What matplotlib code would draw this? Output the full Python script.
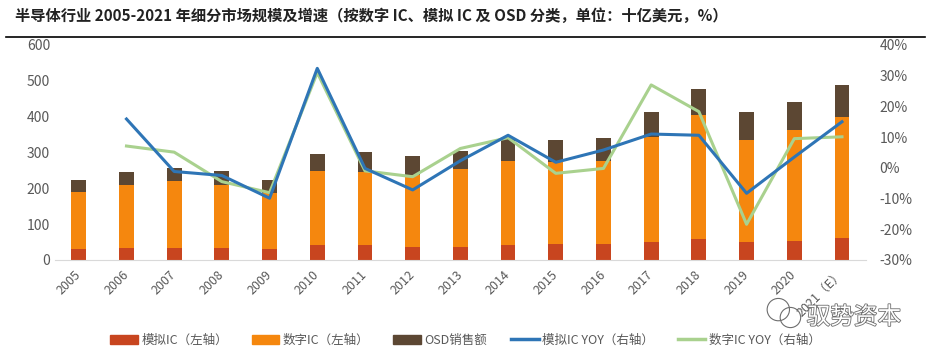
import numpy as np
import matplotlib
matplotlib.use("Agg")
import matplotlib.pyplot as plt
import matplotlib.patheffects as pe
from matplotlib.lines import Line2D
from matplotlib.patches import Patch, Ellipse

plt.rcParams['font.family'] = ['Noto Sans CJK SC', 'DejaVu Sans']

years = ['2005', '2006', '2007', '2008', '2009', '2010', '2011', '2012', '2013',
         '2014', '2015', '2016', '2017', '2018', '2019', '2020', '2021（E）']
analog = [31, 34, 34, 34, 31, 41, 41, 37, 37, 41, 45, 45, 51, 58, 51, 54, 61]
digital = [160, 174, 185, 174, 157, 208, 205, 200, 216, 235, 229, 231, 291, 346, 284, 309, 337]
osd = [33, 38, 37, 41, 36, 48, 54, 53, 51, 61, 61, 63, 72, 73, 79, 77, 89]
analog_yoy = [None, 15.9, -1.2, -2.5, -9.9, 32.4, -0.2, -7.2, 2.3, 10.6, 1.8, 5.8,
              11.0, 10.6, -8.3, 3.5, 15.0]
digital_yoy = [None, 7.1, 5.1, -4.5, -8.1, 31.0, -1.0, -2.9, 6.3, 9.8, -1.8, -0.2,
               27.0, 18.3, -18.4, 9.5, 10.1]

c_analog = '#C8451F'
c_digital = '#F5870E'
c_osd = '#5C4733'
c_blue = '#2E75B6'
c_green = '#A9D18E'
gray = '#595959'

fig = plt.figure(figsize=(9.31, 3.6), dpi=100)
ax = fig.add_axes([0.059, 0.278, 0.871, 0.597])
x = np.arange(len(years))
w = 0.31
analog = np.array(analog)
digital = np.array(digital)
osd = np.array(osd)
ax.bar(x, analog, w, color=c_analog)
ax.bar(x, digital, w, bottom=analog, color=c_digital)
ax.bar(x, osd, w, bottom=analog + digital, color=c_osd)
ax.set_ylim(0, 600)
ax.set_xlim(-0.5, len(years) - 0.5)
ax.set_yticks(range(0, 601, 100))
ax.set_xticks(x)
ax.set_xticklabels(years, rotation=45, ha='right', va='center', rotation_mode='anchor')
for s in ['top', 'right', 'left']:
    ax.spines[s].set_visible(False)
ax.spines['bottom'].set_color('#D9D9D9')
ax.tick_params(axis='both', length=0, colors=gray, labelsize=10)
ax.tick_params(axis='x', labelsize=9, pad=9)

ax2 = ax.twinx()
ya = np.array([np.nan if v is None else v for v in analog_yoy], dtype=float)
yd = np.array([np.nan if v is None else v for v in digital_yoy], dtype=float)
ax2.plot(x, yd, color=c_green, lw=2.2)
ax2.plot(x, ya, color=c_blue, lw=2.2)
ax2.set_ylim(-30, 40)
ax2.set_yticks(range(-30, 41, 10))
ax2.set_yticklabels([f'{v}%' for v in range(-30, 41, 10)])
for s in ['top', 'right', 'left', 'bottom']:
    ax2.spines[s].set_visible(False)
ax2.tick_params(axis='y', length=0, colors=gray, labelsize=10, pad=10)

fig.text(0.016, 0.955, '半导体行业 2005-2021 年细分市场规模及增速（按数字 IC、模拟 IC 及 OSD 分类，单位：十亿美元，%）',
         fontsize=11, fontweight='bold', va='center', ha='left', color='#222222')
fig.add_artist(Line2D([0.006, 0.994], [0.897, 0.897], color='black', lw=1.2))

handles = [Patch(color=c_analog), Patch(color=c_digital), Patch(color=c_osd),
           Line2D([], [], color=c_blue, lw=2.5), Line2D([], [], color=c_green, lw=2.5)]
labels = ['模拟IC（左轴）', '数字IC（左轴）', 'OSD销售额', '模拟IC YOY（右轴）', '数字IC YOY（右轴）']
fig.legend(handles, labels, loc='center', bbox_to_anchor=(0.500, 0.055), ncol=5,
           frameon=False, fontsize=9, handlelength=2.2, handleheight=0.7,
           columnspacing=1.9, handletextpad=0.3, labelcolor=gray)

# watermark: outlined text with a rough chat-bubble icon (outline only)
outline = [pe.withStroke(linewidth=1.2, foreground='#6E6E6E')]
b1 = Ellipse((0.836, 0.14), 0.024, 0.062, fill=False, ec='#6E6E6E', lw=0.8,
             transform=fig.transFigure, zorder=5)
b2 = Ellipse((0.849, 0.118), 0.022, 0.056, fill=False, ec='#6E6E6E', lw=0.8,
             transform=fig.transFigure, zorder=6)
fig.add_artist(b1)
fig.add_artist(b2)
fig.text(0.968, 0.118, '驭势资本', fontsize=17, color='white', ha='right', va='center',
         path_effects=outline, zorder=7)

fig.savefig('out.png', dpi=100)
